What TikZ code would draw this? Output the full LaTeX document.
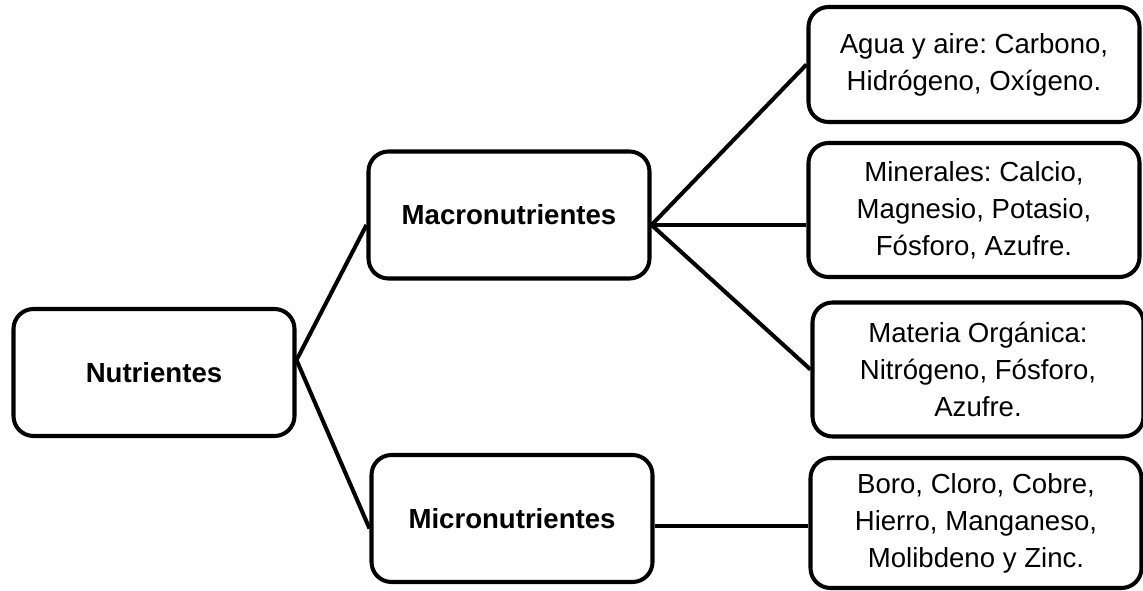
\documentclass[tikz,border=0pt]{standalone}
\usepackage{fontspec}
\setmainfont{Liberation Sans}
\usetikzlibrary{positioning}
\frenchspacing

\begin{document}
\begin{tikzpicture}[
        box/.style={draw=black, line width=2.3pt, rounded corners=0.4cm,
                    fill=white, align=center,
                    font=\fontsize{15.7}{21}\selectfont},
        midbox/.style={box, minimum width=5.62cm, minimum height=2.54cm,
                    font=\fontsize{15.7}{21}\selectfont\bfseries},
        leafbox/.style={box, minimum width=6.62cm, minimum height=2.68cm},
        link/.style={black, line width=2.3pt},
      ]
        \useasboundingbox (0,0) rectangle (22.86,11.8);

        \node[midbox] (nutr)  at (3.08,4.35)  {Nutrientes};
        \node[midbox] (macro) at (10.18,7.5)  {Macronutrientes};
        \node[midbox] (micro) at (10.24,1.43) {Micronutrientes};

        \node[leafbox, minimum height=2.3cm] (agua) at (19.48,10.51)
            {Agua y aire: Carbono,\\ Hidrógeno, Oxígeno.};
        \node[leafbox] (miner) at (19.48,7.6)
            {Minerales: Calcio,\\ Magnesio, Potasio,\\ Fósforo, Azufre.};
        \node[leafbox] (organ) at (19.56,4.41)
            {Materia Orgánica:\\ Nitrógeno, Fósforo,\\ Azufre.};
        \node[leafbox, minimum height=2.6cm] (oligo) at (19.52,1.34)
            {Boro, Cloro, Cobre,\\ Hierro, Manganeso,\\ Molibdeno y Zinc.};

        \draw[link] (nutr.5) -- (macro.184);
        \draw[link] (nutr.5) -- (micro.184);
        \draw[link] (macro.-4) -- (agua.west);
        \draw[link] (macro.-4) -- (macro.-4 -| miner.west);
        \draw[link] (macro.-4) -- (organ.west);
        \draw[link] (micro.-3) -- (micro.-3 -| oligo.west);
      \end{tikzpicture}
\end{document}
